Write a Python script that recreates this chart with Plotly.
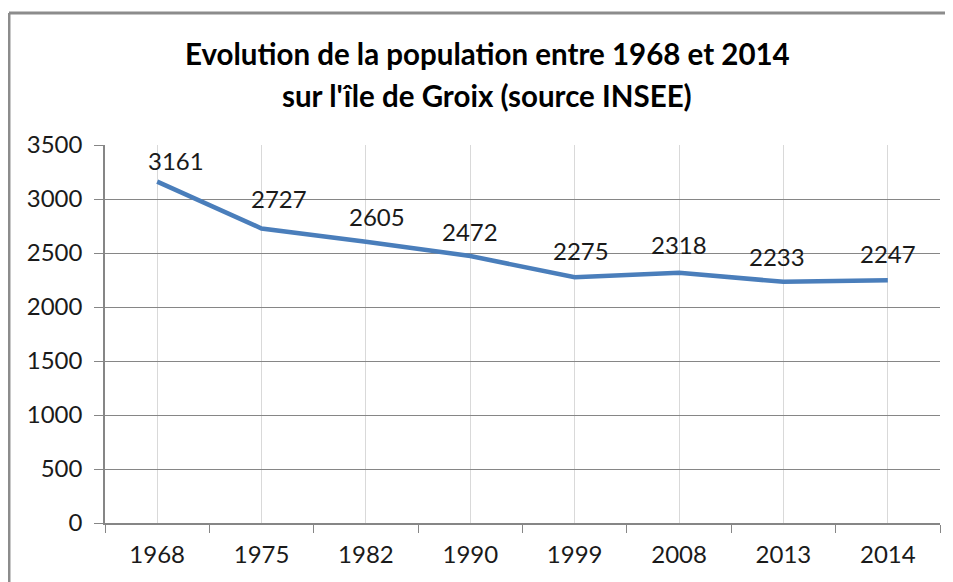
import plotly.graph_objects as go

years = ["1968", "1975", "1982", "1990", "1999", "2008", "2013", "2014"]
population = [3161, 2727, 2605, 2472, 2275, 2318, 2233, 2247]
y_ticks = [0, 500, 1000, 1500, 2000, 2500, 3000, 3500]
title_lines = ["Evolution de la population entre 1968 et 2014",
               "sur l'île de Groix (source INSEE)"]

FONT = "Lato"
LINE_BLUE = "#4a7ebb"
GRID = "#868686"

# small hand nudges for the labels, as in the original chart (px)
label_dx = [19, 17, 11, 0, 6, 0, -6, 0]
label_dy = [21, 30, 25, 25, 27, 28, 25, 27]

# category positions on a linear axis so ticks can sit on the boundaries
pos = list(range(len(years)))
bounds = [p - 0.5 for p in pos] + [pos[-1] + 0.5]

fig = go.Figure()
fig.add_trace(go.Scatter(
    x=pos, y=population, mode="lines",
    line=dict(color=LINE_BLUE, width=4.5),
    hoverinfo="skip", showlegend=False,
))

# data labels above each point
for p, val, dx, dy in zip(pos, population, label_dx, label_dy):
    fig.add_annotation(
        x=p, y=val, text=str(val), showarrow=False,
        xshift=dx, yshift=dy, font=dict(family=FONT, size=24, color="#1a1a1a"),
    )

# two-line title, spaced like the original (centred on the whole chart)
for line, ty in zip(title_lines, [1.241, 1.13]):
    fig.add_annotation(
        xref="paper", yref="paper", x=0.4575, y=ty, xanchor="center",
        yanchor="middle", text=f"<b>{line}</b>", showarrow=False,
        font=dict(family=FONT, size=29.5, color="#000000"),
    )

# chart frame (only top and left edges are visible in the crop)
fig.add_shape(type="line", xref="paper", yref="paper",
              x0=-0.115, x1=1.2, y0=1.349, y1=1.349,
              line=dict(color="#8c8c8c", width=3))
fig.add_shape(type="line", xref="paper", yref="paper",
              x0=-0.115, x1=-0.115, y0=1.349, y1=-0.3,
              line=dict(color="#8c8c8c", width=3))

# page body has an 8px margin, so the figure is 8px smaller than the window
fig.update_layout(
    width=945, height=574,
    margin=dict(l=97, r=13, t=137, b=59, autoexpand=False),
    paper_bgcolor="white", plot_bgcolor="white",
    font=dict(family=FONT, size=24, color="#1a1a1a"),
)

fig.update_xaxes(
    range=[bounds[0], bounds[-1]], tickvals=pos, ticktext=years,
    ticks="", showgrid=True, gridcolor="#d9d9d9", gridwidth=1,
    minor=dict(tickvals=bounds, ticks="outside", ticklen=8,
               tickcolor=GRID, showgrid=False),
    showline=True, linecolor=GRID, linewidth=1.5, zeroline=False,
    tickfont=dict(family=FONT, size=24), tickangle=0, ticklabelstandoff=9,
    automargin=False, fixedrange=True,
)
fig.update_yaxes(
    range=[0, 3500], tickvals=y_ticks, ticks="outside", ticklen=9,
    tickcolor=GRID, showgrid=True, gridcolor=GRID, gridwidth=1,
    showline=True, linecolor=GRID, linewidth=1.5, zeroline=False,
    tickfont=dict(family=FONT, size=24), ticklabelstandoff=7,
    automargin=False, fixedrange=True,
)

fig.write_html("out.html")
